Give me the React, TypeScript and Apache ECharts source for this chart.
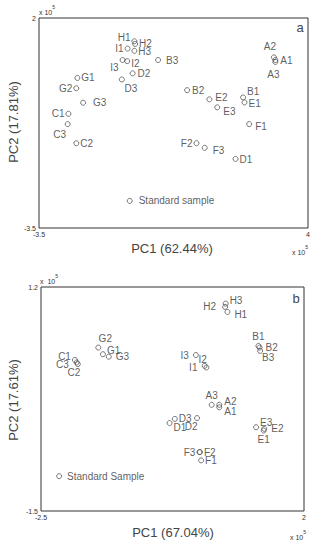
import React, { useEffect, useRef } from "react";
import * as echarts from "echarts";

// Panel a
const namesA = ["H1","H2","H3","I1","I3","I2","D2","D3","B3","G1","G2","G3","C1","C3","C2","B2","E2","E3","B1","E1","F1","A2","A1","A3","F2","F3","D1","Standard sample"];
const xA = [-0.84,-0.82,-0.84,-1.03,-1.17,-1.04,-0.89,-1.19,-0.18,-2.43,-2.46,-2.27,-2.68,-2.70,-2.46,0.63,1.25,1.47,2.19,2.23,2.36,3.05,3.09,3.09,0.89,1.12,1.98,-0.97];
const yA = [1.39,1.32,1.14,1.20,0.90,0.87,0.55,0.39,0.90,0.43,0.16,-0.22,-0.51,-0.78,-1.28,0.11,-0.13,-0.34,-0.08,-0.21,-0.78,0.97,0.90,0.85,-1.28,-1.40,-1.69,-2.79];

// Panel b
const namesB = ["H3","H2","H1","G2","G1","G3","C1","C3","C2","I3","I2","I1","B1","B2","B3","A3","A2","A1","D1","D3","D2","E3","E2","E1","F3","F2","F1","Standard Sample"];
const xB = [0.66,0.65,0.69,-1.52,-1.44,-1.34,-1.92,-1.89,-1.87,0.15,0.30,0.33,1.22,1.24,1.25,0.42,0.55,0.55,-0.30,-0.21,0.17,1.18,1.32,1.31,0.21,0.22,0.24,-2.19];
const yB = [1.00,0.96,0.90,0.47,0.39,0.36,0.32,0.29,0.27,0.38,0.25,0.23,0.49,0.47,0.43,-0.22,-0.22,-0.25,-0.44,-0.39,-0.38,-0.49,-0.51,-0.53,-0.79,-0.79,-0.89,-1.08];

const xTicksA = [-3.5, 4];
const yTicksA = [-3.5, 2];
const xTicksB = [-2.5, 2];
const yTicksB = [-1.5, 1.2];

// label placement (style): [position, distance, dx, dy]
const placeA: Record<string, [string, number, number, number]> = {
  H1: ["left", 1, 0, -4], H2: ["right", 1, 0, 0], H3: ["right", 1, 0, 1], I1: ["left", 1, 0, 0],
  I3: ["left", 1, 0, 7], I2: ["right", 1, 0, 2], D2: ["right", 2, 0, 0], D3: ["bottom", 1, 9, 0],
  B3: ["right", 5, 0, 0], G1: ["right", 1, 0, 0], G2: ["left", 1, 0, 0], G3: ["right", 7, 0, 0],
  C1: ["left", 1, 0, 0], C3: ["bottom", 2, -8, 0], C2: ["right", 1, 0, 0], B2: ["right", 2, 0, 0],
  E2: ["right", 3, 0, -2], E3: ["right", 3, 0, 4], B1: ["right", 1, 0, -6], E1: ["right", 1, 0, 1],
  F1: ["right", 3, 0, 2], A2: ["top", 3, -4, 0], A1: ["right", 2, 0, 0], A3: ["bottom", 3, -2, 2],
  F2: ["left", 1, 0, 0], F3: ["right", 5, 0, 3], D1: ["right", 1, 0, 1], "Standard sample": ["right", 6, 0, 0],
};
const placeB: Record<string, [string, number, number, number]> = {
  H3: ["right", 1, 0, -3], H2: ["left", 6, 0, 0], H1: ["right", 4, 0, 3], G2: ["top", 1, 7, 0],
  G1: ["right", 1, 0, -4], G3: ["right", 4, 0, 0], C1: ["left", 1, 0, -4], C3: ["left", 5, 0, 2],
  C2: ["bottom", 1, -4, -1], I3: ["left", 4, 0, 0], I2: ["top", 0, -2, 2], I1: ["left", 6, 0, 0],
  B1: ["top", 1, 0, 0], B2: ["right", 3, 0, 0], B3: ["bottom", 0, 8, -1], A3: ["top", 1, 0, 0],
  A2: ["right", 2, 0, -3], A1: ["right", 2, 0, 4], D1: ["right", 1, 0, 4], D3: ["right", 1, 0, 0],
  D2: ["bottom", 1, -6, -1], E3: ["right", 1, 0, -5], E2: ["right", 4, 0, 0], E1: ["bottom", 1, 0, 0],
  F3: ["left", 1, 0, 0], F2: ["right", 1, 0, 0], F1: ["right", 1, 0, 0], "Standard Sample": ["right", 5, 0, 0],
};

const FONT = "Liberation Sans, Arial, sans-serif";

function buildData(names: string[], xs: number[], ys: number[], place: Record<string, [string, number, number, number]>) {
  return names.map((n, i) => {
    const p = place[n] || ["right", 2, 0, 0];
    return {
      name: n,
      value: [xs[i], ys[i]],
      label: { position: p[0], distance: p[1], offset: [p[2], p[3]] },
    };
  });
}

export default function App() {
  const ref = useRef<HTMLDivElement>(null);
  useEffect(() => {
    document.body.style.margin = "0";
    const chart = echarts.init(ref.current!, null, { renderer: "svg" });
    const axisCommon = (ticks: number[]) => ({
      type: "value",
      min: ticks[0],
      max: ticks[1],
      axisLine: { show: false },
      axisTick: { show: false },
      splitLine: { show: false },
      axisLabel: {
        customValues: ticks,
        fontSize: 7,
        color: "#333",
        fontFamily: FONT,
        margin: 3,
      },
    });
    const seriesCommon = {
      type: "scatter",
      symbol: "circle",
      symbolSize: 5,
      itemStyle: { color: "rgba(255,255,255,0)", borderColor: "#444", borderWidth: 0.9 },
      label: { show: true, formatter: "{b}", fontSize: 10, color: "#333", fontFamily: FONT },
      emphasis: { disabled: true },
    };
    const sup = (x: number, y: number, base: string, align = "left") => ({
      type: "text",
      x,
      y,
      style: {
        text: "{a|" + base + "}{b|5}",
        align,
        verticalAlign: "middle",
        rich: {
          a: { fontSize: 7, fontFamily: FONT, fill: "#333", verticalAlign: "bottom" },
          b: { fontSize: 5, fontFamily: FONT, fill: "#333", verticalAlign: "top", padding: [0, 0, 6, 0] },
        },
      },
    });
    const txt = (text: string, x: number, y: number, size: number, rotation = 0) => ({
      type: "text",
      x,
      y,
      rotation,
      style: { text, fontSize: size, fontFamily: FONT, fill: "#444", align: "center", verticalAlign: "middle" },
    });
    chart.setOption({
      animation: false,
      grid: [
        { left: 39, top: 18, width: 269, height: 210, show: true, borderColor: "#333", borderWidth: 1 },
        { left: 41, top: 287, width: 263, height: 224, show: true, borderColor: "#333", borderWidth: 1 },
      ],
      xAxis: [
        { ...axisCommon(xTicksA), gridIndex: 0 },
        { ...axisCommon(xTicksB), gridIndex: 1 },
      ],
      yAxis: [
        { ...axisCommon(yTicksA), gridIndex: 0 },
        { ...axisCommon(yTicksB), gridIndex: 1 },
      ],
      series: [
        { ...seriesCommon, xAxisIndex: 0, yAxisIndex: 0, data: buildData(namesA, xA, yA, placeA) },
        { ...seriesCommon, xAxisIndex: 1, yAxisIndex: 1, data: buildData(namesB, xB, yB, placeB) },
      ],
      graphic: [
        txt("a", 300, 27, 13),
        txt("b", 296, 298, 13),
        txt("PC1 (62.44%)", 172, 248, 13),
        txt("PC1 (67.04%)", 173, 532, 13),
        txt("PC2 (17.81%)", 13, 122, 13, Math.PI / 2),
        txt("PC2 (17.61%)", 13, 400, 13, Math.PI / 2),
        sup(39, 10, "x 10"),
        sup(308, 250, "x 10", "right"),
        sup(40, 279, "x  10"),
        sup(306, 535, "x 10", "right"),
      ],
    });
    return () => chart.dispose();
  }, []);
  return <div ref={ref} style={{ width: 314, height: 545 }} />;
}
